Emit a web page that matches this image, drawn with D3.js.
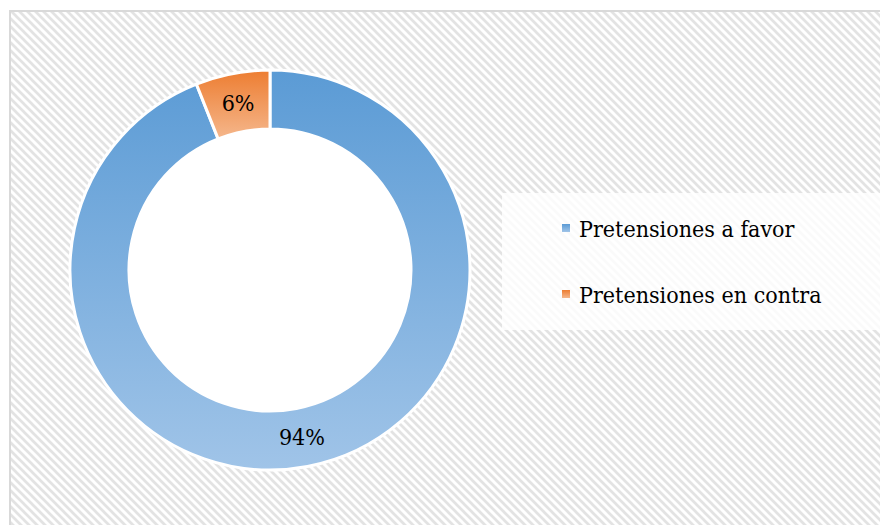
<!DOCTYPE html>
<html>
<head>
<meta charset="utf-8">
<script src="https://cdn.jsdelivr.net/npm/d3@7"></script>
<style>
  html, body { margin: 0; padding: 0; background: #ffffff; }
  svg { display: block; }
</style>
</head>
<body>
<svg id="chart" width="880" height="525"></svg>
<script>
// Share of claims resolved for / against
const categories = ["Pretensiones a favor", "Pretensiones en contra"];
const values = [94, 6];
const labels = ["94%", "6%"];
const colorsTop = ["#5B9BD5", "#ED7D31"];
const colorsBottom = ["#A0C4E8", "#F5B78C"];

const serifFont = "'DejaVu Serif', serif";
const condense = 0.9; // horizontal squeeze to approximate a Times-like width
const width = 880, height = 525;
const svg = d3.select("#chart");
const defs = svg.append("defs");

// Diagonal hatch background
const pat = defs.append("pattern")
  .attr("id", "hatch")
  .attr("patternUnits", "userSpaceOnUse")
  .attr("width", 8).attr("height", 8);
pat.append("rect").attr("width", 8).attr("height", 8).attr("fill", "#ffffff");
pat.append("path")
  .attr("d", "M-2,-2 L10,10 M-2,6 L2,10 M6,-2 L10,2")
  .attr("stroke", "#e3e3e3")
  .attr("stroke-width", 2.7);

// Vertical gradients for each slice and legend key
categories.forEach((c, i) => {
  const g = defs.append("linearGradient")
    .attr("id", "grad" + i)
    .attr("x1", 0).attr("y1", 0).attr("x2", 0).attr("y2", 1);
  g.append("stop").attr("offset", "0%").attr("stop-color", colorsTop[i]);
  g.append("stop").attr("offset", "100%").attr("stop-color", colorsBottom[i]);
});

// Chart area frame
svg.append("rect")
  .attr("x", 10).attr("y", 11)
  .attr("width", width + 10).attr("height", height + 10)
  .attr("fill", "url(#hatch)")
  .attr("stroke", "#d9d9d9")
  .attr("stroke-width", 2);

// Donut
const cx = 270, cy = 270, outerR = 200, innerR = 141;
const pie = d3.pie().sort(null).value(d => d)(values);
const arc = d3.arc().innerRadius(innerR).outerRadius(outerR);

const g = svg.append("g").attr("transform", `translate(${cx},${cy})`);

g.append("circle").attr("r", innerR).attr("fill", "#ffffff");

g.selectAll("path.slice")
  .data(pie)
  .join("path")
  .attr("class", "slice")
  .attr("d", arc)
  .attr("fill", (d, i) => `url(#grad${i})`)
  .attr("stroke", "#ffffff")
  .attr("stroke-width", 3)
  .attr("stroke-linejoin", "miter");

function squeeze(sel) {
  sel.each(function () {
    const w = this.getComputedTextLength();
    d3.select(this)
      .attr("textLength", w * condense)
      .attr("lengthAdjust", "spacingAndGlyphs");
  });
}

g.selectAll("text.lbl")
  .data(pie)
  .join("text")
  .attr("class", "lbl")
  .attr("transform", d => `translate(${arc.centroid(d)})`)
  .attr("text-anchor", "middle")
  .attr("dominant-baseline", "central")
  .style("font-family", serifFont)
  .style("font-size", "23px")
  .attr("fill", "#000000")
  .text((d, i) => labels[i])
  .call(squeeze);

// Legend
const legend = svg.append("g");
legend.append("rect")
  .attr("x", 502).attr("y", 193)
  .attr("width", 380).attr("height", 137)
  .attr("fill", "#ffffff").attr("fill-opacity", 0.82);

const items = legend.selectAll("g.item")
  .data(categories)
  .join("g")
  .attr("class", "item")
  .attr("transform", (d, i) => `translate(562, ${228 + i * 66})`);

items.append("rect")
  .attr("x", 0).attr("y", -4)
  .attr("width", 8).attr("height", 8)
  .attr("fill", (d, i) => `url(#grad${i})`);

items.append("text")
  .attr("x", 17).attr("y", 9)
  .style("font-family", serifFont)
  .style("font-size", "23px")
  .attr("fill", "#000000")
  .text(d => d)
  .call(squeeze);
</script>
</body>
</html>
